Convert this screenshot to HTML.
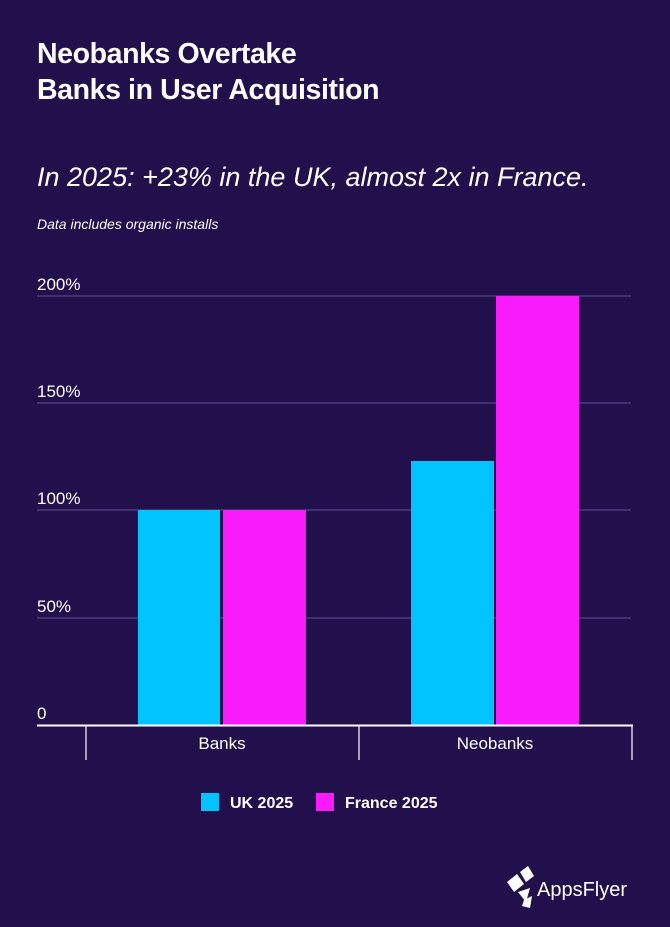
<!DOCTYPE html>
<html><head><style>
body{margin:0;width:670px;height:927px;background:#21104c;overflow:hidden;font-family:"Liberation Sans",sans-serif;color:#fff}
.t{position:absolute;left:37px;top:36px;font-size:28.5px;font-weight:bold;line-height:36px;letter-spacing:-0.4px}
.s{position:absolute;left:37px;top:162px;font-size:27px;font-style:italic;font-weight:300}
.n{position:absolute;left:37px;top:216px;font-size:14px;font-style:italic}
</style></head><body>
<div class="t">Neobanks Overtake<br>Banks in User Acquisition</div>
<div class="s">In 2025: +23% in the UK, almost 2x in France.</div>
<div class="n">Data includes organic installs</div>
<svg width="670" height="927" style="position:absolute;left:0;top:0">
<g stroke="#4a3a7a" stroke-width="1.5">
<line x1="37" x2="631" y1="296" y2="296"/><line x1="37" x2="631" y1="403" y2="403"/>
<line x1="37" x2="631" y1="510" y2="510"/><line x1="37" x2="631" y1="618" y2="618"/>
</g>
<g fill="#fff" font-family="Liberation Sans" font-size="17">
<text x="37" y="290">200%</text><text x="37" y="397">150%</text><text x="37" y="504">100%</text><text x="37" y="612">50%</text><text x="37" y="719">0</text>
<text x="222" y="749" text-anchor="middle">Banks</text><text x="495" y="749" text-anchor="middle">Neobanks</text>
</g>
<rect x="138" y="510" width="82" height="215" fill="#00c3ff"/>
<rect x="223" y="510" width="83" height="215" fill="#fa1bfc"/>
<rect x="411" y="461" width="83" height="264" fill="#00c3ff"/>
<rect x="496" y="296" width="83" height="429" fill="#fa1bfc"/>
<line x1="37" x2="633" y1="725.5" y2="725.5" stroke="#fff" stroke-width="2"/>
<g stroke="#fff" stroke-width="1.2"><line x1="86" x2="86" y1="726" y2="760"/><line x1="359" x2="359" y1="726" y2="760"/><line x1="632" x2="632" y1="726" y2="760"/></g>
<rect x="201" y="793" width="18" height="18" fill="#00c3ff"/>
<text x="230" y="808" fill="#fff" font-family="Liberation Sans" font-size="16" font-weight="bold">UK 2025</text>
<rect x="316" y="793" width="18" height="18" fill="#fa1bfc"/>
<text x="345" y="808" fill="#fff" font-family="Liberation Sans" font-size="16" font-weight="bold">France 2025</text>
<g fill="#fff"><polygon points="507,882 517,874 524,884 514,892"/><polygon points="520,872 528,866 534,876 526,882"/><polygon points="518,892 530,888 526,902"/><polygon points="524,900 532,896 530,908 522,906"/></g>
<text x="537" y="896" fill="#fff" font-family="Liberation Sans" font-size="20">AppsFlyer</text>
</svg>
</body></html>
